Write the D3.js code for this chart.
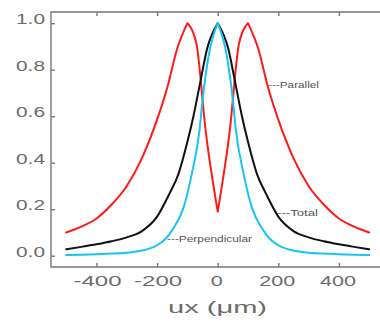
<!DOCTYPE html>
<html><head><meta charset="utf-8">
<script src="https://cdn.jsdelivr.net/npm/d3@7"></script>
<style>html,body{margin:0;padding:0;background:#fff;}svg{display:block;}</style>
</head><body>
<svg id="c" width="380" height="322"></svg>
<script>
const xTicks = [-400, -200, 0, 200, 400];
const xTickLabels = ["-400", "-200", "0", "200", "400"];
const yTicks = [0, 0.2, 0.4, 0.6, 0.8, 1.0];
const yTickLabels = ["0.0", "0.2", "0.4", "0.6", "0.8", "1.0"];
const xTitle = "ux (\u03bcm)";

const parallelX = [-500,-450,-400,-350,-300,-250,-200,-165,-135,-100,-70,-40,0,40,70,100,135,165,200,250,300,350,400,450,500];
const parallelY = [0.10,0.125,0.16,0.22,0.30,0.42,0.585,0.73,0.885,1.0,0.91,0.54,0.19,0.54,0.91,1.0,0.885,0.73,0.585,0.42,0.30,0.22,0.16,0.125,0.10];

const totalX = [-500,-450,-400,-350,-300,-250,-200,-160,-130,-100,-80,-57,-35,0,35,57,80,100,130,160,200,250,300,350,400,450,500];
const totalY = [0.028,0.038,0.049,0.062,0.079,0.106,0.168,0.265,0.35,0.49,0.60,0.75,0.89,1.0,0.89,0.75,0.60,0.49,0.35,0.265,0.168,0.106,0.079,0.062,0.049,0.038,0.028];

const perpX = [-500,-450,-400,-350,-300,-250,-200,-170,-150,-112,-85,-60,-50,-30,0,30,50,60,85,112,150,170,200,250,300,350,400,450,500];
const perpY = [0.003,0.004,0.006,0.009,0.013,0.022,0.045,0.075,0.11,0.21,0.355,0.54,0.67,0.86,1.0,0.86,0.67,0.54,0.355,0.21,0.11,0.075,0.045,0.022,0.013,0.009,0.006,0.004,0.003];

const seriesNames = ["Parallel", "Total", "Perpendicular"];

const svg = d3.select("#c");
const x = d3.scaleLinear().domain([-500, 500]).range([66.2, 369.2]);
const y = d3.scaleLinear().domain([0, 1]).range([255.7, 23.2]);

const axisCol = "#777";
const textCol = "#6c6c6c";
const font = "'Liberation Sans', Arial, sans-serif";

// frame
const frameL = 51, frameT = 12, frameB = 267, frameR = 380;
svg.append("path")
  .attr("d", `M${frameR},${frameT}H${frameL}V${frameB}H${frameR}`)
  .attr("fill", "none").attr("stroke", axisCol).attr("stroke-width", 1.4);

// y axis ticks
const gy = svg.append("g").attr("transform", `translate(${frameL},0)`)
  .call(d3.axisLeft(y).tickValues(yTicks).tickSize(-4).tickFormat(""));
gy.select(".domain").remove();
gy.selectAll(".tick line").attr("stroke", axisCol).attr("stroke-width", 1.4);

// x axis ticks bottom and top
const gxb = svg.append("g").attr("transform", `translate(0,${frameB})`)
  .call(d3.axisBottom(x).tickValues(xTicks).tickSize(-4).tickFormat(""));
gxb.select(".domain").remove();
gxb.selectAll(".tick line").attr("stroke", axisCol).attr("stroke-width", 1.4);
const gxt = svg.append("g").attr("transform", `translate(0,${frameT})`)
  .call(d3.axisTop(x).tickValues(xTicks).tickSize(-4).tickFormat(""));
gxt.select(".domain").remove();
gxt.selectAll(".tick line").attr("stroke", axisCol).attr("stroke-width", 1.4);

// y labels
svg.append("g").selectAll("text").data(yTicks).join("text")
  .attr("x", 45).attr("y", d => y(d) + 1)
  .attr("text-anchor", "end")
  .attr("font-family", font).attr("font-size", 15).attr("fill", textCol)
  .attr("textLength", 29).attr("lengthAdjust", "spacingAndGlyphs")
  .text((d, i) => yTickLabels[i]);

// x labels
svg.append("g").selectAll("text").data(xTicks).join("text")
  .attr("x", d => x(d) + (d < 0 ? 1 : -1)).attr("y", 286)
  .attr("text-anchor", "middle")
  .attr("font-family", font).attr("font-size", 15).attr("fill", textCol)
  .attr("textLength", (d, i) => xTickLabels[i].length * 12)
  .attr("lengthAdjust", "spacingAndGlyphs")
  .text((d, i) => xTickLabels[i]);

// x title
svg.append("text").attr("x", 217.5).attr("y", 313)
  .attr("text-anchor", "middle")
  .attr("font-family", font).attr("font-size", 17).attr("fill", textCol)
  .attr("textLength", 99).attr("lengthAdjust", "spacingAndGlyphs")
  .text(xTitle);

// curves: smooth (monotone) within each monotonic run, sharp at extrema
const zip = (a, b) => a.map((v, i) => [v, b[i]]);
const seg = d3.line().x(d => x(d[0])).y(d => y(d[1])).curve(d3.curveMonotoneX);
function piecewise(pts) {
  const cuts = [0];
  for (let i = 1; i < pts.length - 1; i++) {
    const a = pts[i][1] - pts[i-1][1], b = pts[i+1][1] - pts[i][1];
    if (a * b < 0) cuts.push(i);
  }
  cuts.push(pts.length - 1);
  let d = "";
  for (let k = 0; k < cuts.length - 1; k++) d += seg(pts.slice(cuts[k], cuts[k+1] + 1));
  return d;
}
const curves = [
  {xs: parallelX, ys: parallelY, color: "#ff1a1a"},
  {xs: totalX, ys: totalY, color: "#111"},
  {xs: perpX, ys: perpY, color: "#18c4f4"}
];
svg.append("g").selectAll("path").data(curves).join("path")
  .attr("d", c => piecewise(zip(c.xs, c.ys)))
  .attr("fill", "none").attr("stroke", c => c.color)
  .attr("stroke-width", 2).attr("stroke-linejoin", "round").attr("stroke-linecap", "round");

// annotations
const ann = [
  {t: "---" + seriesNames[0], x: 268, y: 88, w: 51},
  {t: "---" + seriesNames[1], x: 277, y: 216, w: 41},
  {t: "---" + seriesNames[2], x: 167, y: 242, w: 85}
];
svg.append("g").selectAll("text").data(ann).join("text")
  .attr("x", d => d.x).attr("y", d => d.y)
  .attr("font-family", font).attr("font-size", 9).attr("fill", "#555")
  .attr("textLength", d => d.w).attr("lengthAdjust", "spacingAndGlyphs")
  .text(d => d.t);
</script>
</body></html>
